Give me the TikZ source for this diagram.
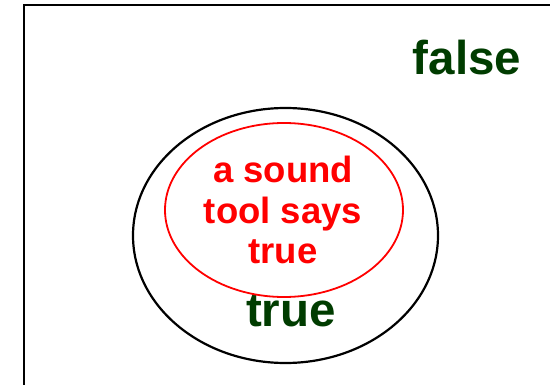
\documentclass[tikz,border=0pt]{standalone}
\usepackage{fontspec}
\setmainfont{Liberation Sans}
\definecolor{setgreen}{RGB}{0,60,0}
\definecolor{toolred}{RGB}{255,0,0}
\tikzset{
  setlabel/.style={text=setgreen, font=\fontsize{47.5}{52}\selectfont\bfseries, inner sep=0pt},
  toollabel/.style={text=toolred, font=\fontsize{36.5}{40.5}\selectfont\bfseries, align=center, inner sep=0pt},
}
\begin{document}
\begin{tikzpicture}[x=1pt, y=-1pt]
  \useasboundingbox (0,0) rectangle (550,385);
  \clip (0,0) rectangle (550,385);
  % universe of all programs
  \draw[line width=2.4pt, black] (24,5) rectangle (570,405);
  \node[setlabel, anchor=base] (false) at (467,75) {false};
  % programs that are really true
  \draw[line width=2.2pt, black] (285.5,235.5) ellipse [x radius=152.5pt, y radius=127.5pt];
  \node[setlabel, anchor=base] (true) at (291,327) {true};
  % programs a sound tool accepts
  \draw[line width=1.8pt, toolred] (284,210) ellipse [x radius=119pt, y radius=87pt];
  \node[toollabel, anchor=center] (sound) at (283,210) {a sound\\tool says\\true};
\end{tikzpicture}
\end{document}
